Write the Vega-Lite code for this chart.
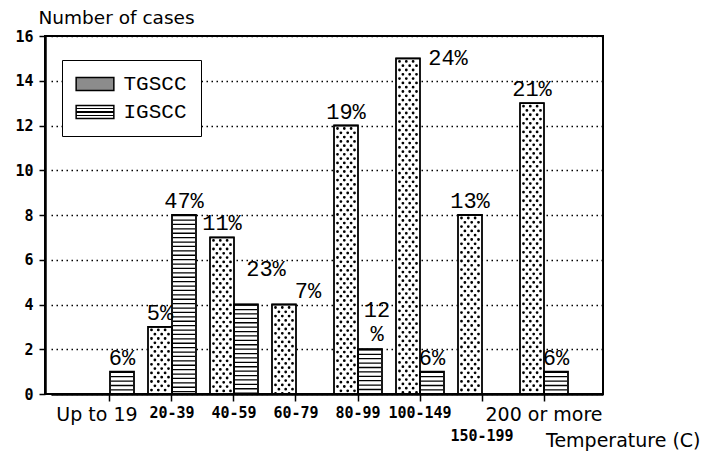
{
  "$schema": "https://vega.github.io/schema/vega-lite/v6.json",
  "width": 558,
  "height": 358,
  "autosize": "none",
  "padding": {"left": 45, "top": 36, "right": 98, "bottom": 60},
  "background": "white",
  "config": {
    "view": {"stroke": "black", "strokeWidth": 2},
    "axis": {"domainColor": "black", "tickColor": "black", "labelColor": "black", "titleColor": "black"}
  },
  "data": {
    "values": [
      {"cat": "Up to 19", "series": "IGSCC", "n": 1, "pct": "6%"},
      {"cat": "20-39", "series": "TGSCC", "n": 3, "pct": "5%"},
      {"cat": "20-39", "series": "IGSCC", "n": 8, "pct": "47%"},
      {"cat": "40-59", "series": "TGSCC", "n": 7, "pct": "11%"},
      {"cat": "40-59", "series": "IGSCC", "n": 4, "pct": "23%"},
      {"cat": "60-79", "series": "TGSCC", "n": 4, "pct": "7%"},
      {"cat": "80-99", "series": "TGSCC", "n": 12, "pct": "19%"},
      {"cat": "80-99", "series": "IGSCC", "n": 2, "pct": "12%"},
      {"cat": "100-149", "series": "TGSCC", "n": 15, "pct": "24%"},
      {"cat": "100-149", "series": "IGSCC", "n": 1, "pct": "6%"},
      {"cat": "150-199", "series": "TGSCC", "n": 8, "pct": "13%"},
      {"cat": "200 or more", "series": "TGSCC", "n": 13, "pct": "21%"},
      {"cat": "200 or more", "series": "IGSCC", "n": 1, "pct": "6%"}
    ]
  },
  "encoding": {
    "x": {
      "field": "cat",
      "type": "nominal",
      "sort": ["Up to 19", "20-39", "40-59", "60-79", "80-99", "100-149", "150-199", "200 or more"],
      "scale": {
        "domain": ["Up to 19", "20-39", "40-59", "60-79", "80-99", "100-149", "150-199", "200 or more"],
        "range": [6, 558],
        "paddingInner": 0.2258,
        "paddingOuter": 0.5645
      },
      "axis": {
        "title": "Temperature (C)",
        "titleFont": "DejaVu Sans",
        "titleFontSize": 19,
        "titleFontWeight": "normal",
        "titleX": 655,
        "titleY": 46,
        "titleAlign": "right",
        "titleBaseline": "middle",
        "labelAngle": 0,
        "domainWidth": 2.5,
        "tickSize": 7,
        "tickWidth": 1.5,
        "grid": false,
        "labelFont": {"condition": {"test": "datum.value=='Up to 19' || datum.value=='200 or more'", "value": "DejaVu Sans"}, "value": "DejaVu Sans Mono"},
        "labelFontWeight": {"condition": {"test": "datum.value=='Up to 19' || datum.value=='200 or more'", "value": "normal"}, "value": "bold"},
        "labelFontSize": {"condition": {"test": "datum.value=='Up to 19' || datum.value=='200 or more'", "value": 19}, "value": 15},
        "labelPadding": {"condition": {"test": "datum.value=='150-199'", "value": 27}, "value": 4},
        "labelOffset": {"condition": {"test": "datum.value=='Up to 19'", "value": -13}, "value": 0}
      }
    },
    "y": {
      "field": "n",
      "type": "quantitative",
      "scale": {"domain": [0, 16], "nice": false},
      "axis": {
        "title": "Number of cases",
        "titleFont": "DejaVu Sans",
        "titleFontSize": 18.5,
        "titleFontWeight": "normal",
        "titleAngle": 0,
        "titleX": -7,
        "titleY": -19,
        "titleAlign": "left",
        "titleBaseline": "middle",
        "values": [0, 2, 4, 6, 8, 10, 12, 14, 16],
        "labelFont": "DejaVu Sans Mono",
        "labelFontWeight": "bold",
        "labelFontSize": 15,
        "labelPadding": 6,
        "tickSize": 6,
        "tickWidth": 1.5,
        "domainWidth": 2.5,
        "grid": true,
        "gridColor": "black",
        "gridDash": [1.5, 3.5],
        "gridWidth": 1.3
      }
    }
  },
  "layer": [
    {
      "mark": {"type": "bar", "fill": "white"},
      "encoding": {
        "xOffset": {"field": "series", "type": "nominal", "scale": {"domain": ["TGSCC", "IGSCC"], "paddingInner": 0, "paddingOuter": 0}}
      }
    },
    {
      "transform": [{"filter": "datum.series=='IGSCC'"}],
      "mark": {"type": "rule", "xOffset": 12, "strokeWidth": 22, "strokeDash": [1.3, 3.1], "color": "black"},
      "encoding": {"y2": {"datum": 0}}
    },
    {
      "transform": [{"filter": "datum.series=='TGSCC'"}],
      "mark": {"type": "rule", "xOffset": -20.5, "strokeWidth": 2.8, "strokeCap": "round", "strokeDash": [0, 8.6], "strokeDashOffset": 5.6, "color": "black"},
      "encoding": {"y2": {"datum": 0}}
    },
    {
      "transform": [{"filter": "datum.series=='TGSCC'"}],
      "mark": {"type": "rule", "xOffset": -17.1, "strokeWidth": 2.8, "strokeCap": "round", "strokeDash": [0, 8.6], "strokeDashOffset": 1.3, "color": "black"},
      "encoding": {"y2": {"datum": 0}}
    },
    {
      "transform": [{"filter": "datum.series=='TGSCC'"}],
      "mark": {"type": "rule", "xOffset": -13.7, "strokeWidth": 2.8, "strokeCap": "round", "strokeDash": [0, 8.6], "strokeDashOffset": 5.6, "color": "black"},
      "encoding": {"y2": {"datum": 0}}
    },
    {
      "transform": [{"filter": "datum.series=='TGSCC'"}],
      "mark": {"type": "rule", "xOffset": -10.3, "strokeWidth": 2.8, "strokeCap": "round", "strokeDash": [0, 8.6], "strokeDashOffset": 1.3, "color": "black"},
      "encoding": {"y2": {"datum": 0}}
    },
    {
      "transform": [{"filter": "datum.series=='TGSCC'"}],
      "mark": {"type": "rule", "xOffset": -6.9, "strokeWidth": 2.8, "strokeCap": "round", "strokeDash": [0, 8.6], "strokeDashOffset": 5.6, "color": "black"},
      "encoding": {"y2": {"datum": 0}}
    },
    {
      "transform": [{"filter": "datum.series=='TGSCC'"}],
      "mark": {"type": "rule", "xOffset": -3.5, "strokeWidth": 2.8, "strokeCap": "round", "strokeDash": [0, 8.6], "strokeDashOffset": 1.3, "color": "black"},
      "encoding": {"y2": {"datum": 0}}
    },
    {
      "mark": {"type": "bar", "stroke": "black", "strokeWidth": 1.5},
      "encoding": {
        "xOffset": {"field": "series", "type": "nominal", "scale": {"domain": ["TGSCC", "IGSCC"], "paddingInner": 0, "paddingOuter": 0}},
        "y2": {"field": "n"},
        "fill": {
          "field": "series",
          "type": "nominal",
          "scale": {
            "domain": ["TGSCC", "IGSCC"],
            "range": [
              "#8c8c8c",
              {"expr": "{gradient: 'linear', x1: 0, y1: 0, x2: 0, y2: 1, stops: [{offset: 0, color: 'white'}, {offset: 0.2, color: 'white'}, {offset: 0.2, color: 'black'}, {offset: 0.3, color: 'black'}, {offset: 0.3, color: 'white'}, {offset: 0.45, color: 'white'}, {offset: 0.45, color: 'black'}, {offset: 0.55, color: 'black'}, {offset: 0.55, color: 'white'}, {offset: 0.7, color: 'white'}, {offset: 0.7, color: 'black'}, {offset: 0.8, color: 'black'}, {offset: 0.8, color: 'white'}, {offset: 1, color: 'white'}]}"}
            ]
          },
          "legend": {
            "title": null,
            "orient": "none",
            "legendX": 17,
            "legendY": 24,
            "symbolType": "M-2.9,-1H2.9V1H-2.9Z",
            "symbolSize": 169,
            "symbolOffset": 9,
            "symbolStrokeColor": "black",
            "symbolStrokeWidth": 1.5,
            "symbolOpacity": 1,
            "labelFont": "Liberation Mono",
            "labelFontSize": 21,
            "labelColor": "black",
            "labelOffset": 18,
            "rowPadding": 6,
            "padding": 13.5,
            "strokeColor": "black",
            "fillColor": "white"
          }
        }
      }
    },
    {
      "mark": {"type": "bar", "fill": "transparent", "stroke": "black", "strokeWidth": 1.8},
      "encoding": {
        "xOffset": {"field": "series", "type": "nominal", "scale": {"domain": ["TGSCC", "IGSCC"], "paddingInner": 0, "paddingOuter": 0}}
      }
    },
    {
      "transform": [{"filter": "indexof(['23%','7%','24%','12%'], datum.pct) < 0"}],
      "mark": {"type": "text", "font": "Liberation Mono", "fontSize": 22, "color": "black", "baseline": "alphabetic", "align": "center", "dy": -7},
      "encoding": {
        "xOffset": {"field": "series", "type": "nominal", "scale": {"domain": ["TGSCC", "IGSCC"], "paddingInner": 0, "paddingOuter": 0}},
        "text": {"field": "pct"}
      }
    },
    {
      "transform": [{"filter": "datum.pct=='23%'"}],
      "mark": {"type": "text", "font": "Liberation Mono", "fontSize": 22, "color": "black", "baseline": "alphabetic", "align": "center", "dx": 20, "dy": -29},
      "encoding": {
        "xOffset": {"field": "series", "type": "nominal", "scale": {"domain": ["TGSCC", "IGSCC"], "paddingInner": 0, "paddingOuter": 0}},
        "text": {"field": "pct"}
      }
    },
    {
      "transform": [{"filter": "datum.pct=='7%'"}],
      "mark": {"type": "text", "font": "Liberation Mono", "fontSize": 22, "color": "black", "baseline": "alphabetic", "align": "center", "dx": 24, "dy": -7},
      "encoding": {
        "xOffset": {"field": "series", "type": "nominal", "scale": {"domain": ["TGSCC", "IGSCC"], "paddingInner": 0, "paddingOuter": 0}},
        "text": {"field": "pct"}
      }
    },
    {
      "transform": [{"filter": "datum.pct=='24%'"}],
      "mark": {"type": "text", "font": "Liberation Mono", "fontSize": 22, "color": "black", "baseline": "alphabetic", "align": "center", "dx": 40, "dy": 7},
      "encoding": {
        "xOffset": {"field": "series", "type": "nominal", "scale": {"domain": ["TGSCC", "IGSCC"], "paddingInner": 0, "paddingOuter": 0}},
        "text": {"field": "pct"}
      }
    },
    {
      "transform": [{"filter": "datum.pct=='12%'"}],
      "mark": {"type": "text", "font": "Liberation Mono", "fontSize": 22, "color": "black", "baseline": "alphabetic", "align": "center", "dx": 7, "dy": -32, "lineHeight": 24},
      "encoding": {
        "xOffset": {"field": "series", "type": "nominal", "scale": {"domain": ["TGSCC", "IGSCC"], "paddingInner": 0, "paddingOuter": 0}},
        "text": {"value": ["12", "%"]}
      }
    }
  ]
}
